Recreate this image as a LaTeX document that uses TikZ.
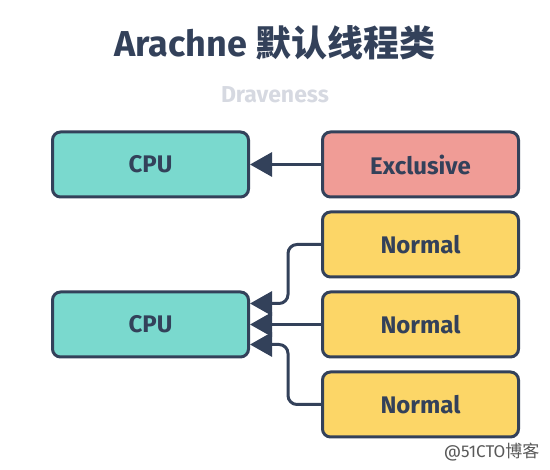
\documentclass[tikz,border=0pt]{standalone}
\usepackage{fontspec}
\setmainfont{Fira Sans}
\newfontfamily\cjk{Noto Sans CJK SC}
\usepackage{tikz}
\usetikzlibrary{arrows.meta,positioning}
\definecolor{navy}{HTML}{33415A}
\definecolor{tealbox}{HTML}{7AD9CE}
\definecolor{redbox}{HTML}{F09C96}
\definecolor{yellowbox}{HTML}{FCD667}
\definecolor{subgray}{HTML}{D6D9E1}

\begin{document}
\begin{tikzpicture}[
    x=1pt, y=-1pt,
    font=\bfseries\fontsize{24}{28}\selectfont,
    node distance=12pt and 71pt,
    box/.style={rectangle, rounded corners=8pt, line width=3pt,
      draw=navy, text=navy,
      minimum width=196pt, minimum height=65pt, align=center},
    cpu/.style={box, fill=tealbox},
    excl/.style={box, fill=redbox},
    norm/.style={box, fill=yellowbox},
    arr/.style={-{Triangle[length=22pt, width=24pt]}, line width=3pt, draw=navy,
      rounded corners=9pt}
  ]
    \useasboundingbox (0,0) rectangle (550,470);

    \node[text=navy, font=\bfseries\fontsize{36}{40}\selectfont] (title) at (275,43)
      {Arachne {\cjk 默认线程类}};
    \node[text=subgray, font=\bfseries\fontsize{23}{26}\selectfont] (sub) at (275,95) {Draveness};

    \node[cpu] (cpu1) at (150.5,164.5) {CPU};
    \node[excl, right=of cpu1] (ex) {Exclusive};
    \node[norm, below=of ex] (n1) {Normal};
    \node[norm, below=of n1] (n2) {Normal};
    \node[norm, below=of n2] (n3) {Normal};
    \node[cpu, left=of n2] (cpu2) {CPU};

    \node[text=black!65, font=\fontsize{17}{20}\selectfont\mdseries, anchor=east] (mark) at (543,452)
      {@51CTO{\cjk 博客}};

    \draw[arr] (ex) -- (cpu1);
    \draw[arr] (n1.west) -- ++(-33pt,0) |- ([yshift=21pt]cpu2.east);
    \draw[arr] (n2) -- (cpu2);
    \draw[arr] (n3.west) -- ++(-33pt,0) |- ([yshift=-20pt]cpu2.east);
  \end{tikzpicture}
\end{document}
